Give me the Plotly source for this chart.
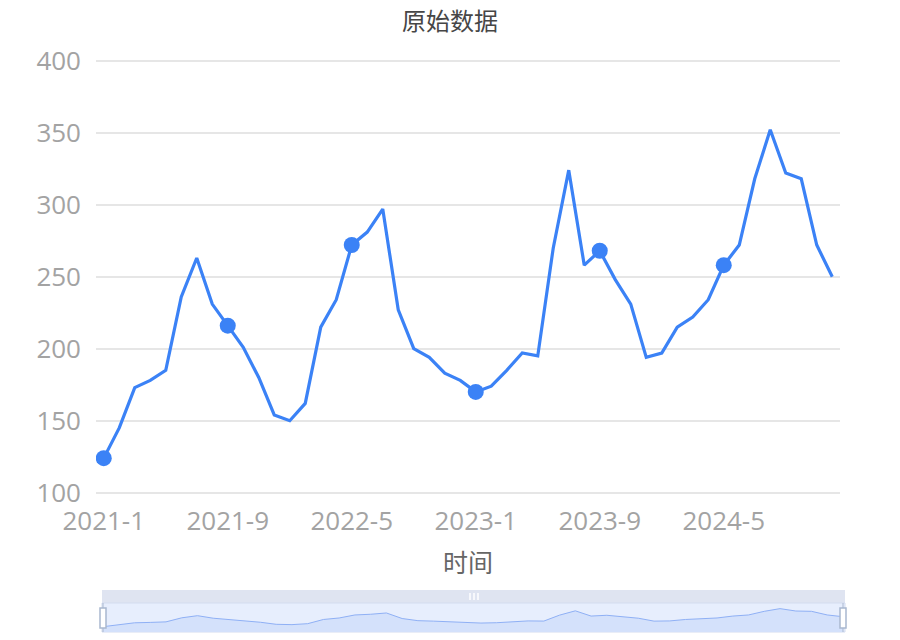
import plotly.graph_objects as go

# ---- data ----
months = [f"{y}-{m}" for y in (2021, 2022, 2023, 2024) for m in range(1, 13)]
values = [124, 145, 173, 178, 185, 236, 263, 231, 216, 201, 180, 154,
          150, 162, 215, 234, 272, 281, 297, 227, 200, 194, 183, 178,
          170, 174, 185, 197, 195, 270, 324, 258, 268, 248, 231, 194,
          197, 215, 222, 234, 258, 272, 318, 352, 322, 318, 272, 250]
tick_labels = ["2021-1", "2021-9", "2022-5", "2023-1", "2023-9", "2024-5"]
y_ticks = [100, 150, 200, 250, 300, 350, 400]
marker_months = months[::8]
marker_values = values[::8]

OFF = 0  # body margin removed via post_script
W, H = 900 - OFF, 640 - OFF
def px(x):
    return (x - OFF) / W
def py(y):
    return 1 - (y - OFF) / H

BLUE = "#3b82f6"
FONT = "Open Sans, Noto Sans CJK SC, sans-serif"

fig = go.Figure()

# main line
fig.add_trace(go.Scatter(
    x=months, y=values, mode="lines",
    line=dict(color=BLUE, width=3.2), xaxis="x", yaxis="y",
    showlegend=False, hoverinfo="x+y"))
fig.add_trace(go.Scatter(
    x=marker_months, y=marker_values, mode="markers",
    marker=dict(color=BLUE, size=16), xaxis="x", yaxis="y",
    showlegend=False, hoverinfo="x+y"))

# data-zoom mini chart
fig.add_trace(go.Scatter(
    x=list(range(len(values))), y=values, mode="lines",
    line=dict(color="#8fb0f5", width=1), fill="tozeroy",
    fillcolor="#d4e1fb", xaxis="x2", yaxis="y2",
    showlegend=False, hoverinfo="skip"))

shapes = []
# slider top bar
shapes.append(dict(type="rect", xref="paper", yref="paper",
                   x0=px(102), x1=px(845), y0=py(603), y1=py(590),
                   fillcolor="#dfe4f1", line=dict(width=0), layer="below"))
# slider body
shapes.append(dict(type="rect", xref="paper", yref="paper",
                   x0=px(102), x1=px(845), y0=py(632), y1=py(603),
                   fillcolor="#e7eefd", line=dict(color="#d3dcef", width=1), layer="below"))
# move handle grip bars
for gx in (470, 474, 478):
    shapes.append(dict(type="line", xref="paper", yref="paper",
                       x0=px(gx), x1=px(gx), y0=py(593), y1=py(600),
                       line=dict(color="white", width=1.5)))
# side handles
for hx in (103, 843):
    shapes.append(dict(type="line", xref="paper", yref="paper",
                       x0=px(hx), x1=px(hx), y0=py(603), y1=py(632),
                       line=dict(color="#aab8cf", width=1)))
    shapes.append(dict(type="rect", xref="paper", yref="paper",
                       x0=px(hx - 3), x1=px(hx + 3), y0=py(628), y1=py(608),
                       fillcolor="white", line=dict(color="#a9b8cf", width=1.5)))

# y-axis pixel mapping: 100 -> 492.7, 400 -> 60.7 (1.44 px per unit)
Y_LO, Y_HI = 97, 403
y_bot = 492.7 + (100 - Y_LO) * 1.44
y_top = 60.7 - (Y_HI - 400) * 1.44

fig.update_layout(
    width=W, height=H,
    margin=dict(l=0, r=0, t=0, b=0, autoexpand=False),
    paper_bgcolor="white", plot_bgcolor="white",
    font=dict(family=FONT),
    xaxis=dict(
        domain=[px(96), px(840)],
        type="category", categoryorder="array", categoryarray=months,
        range=[-0.5, len(months) - 0.5],
        tickmode="array", tickvals=tick_labels, ticktext=tick_labels,
        showgrid=False, showline=False, zeroline=False, ticks="",
        tickfont=dict(size=26, color="#a3a3a3", family=FONT),
        ticklabelstandoff=10, anchor="free", position=py(492.7),
        fixedrange=True, automargin=False),
    yaxis=dict(
        domain=[py(y_bot), py(y_top)],
        range=[Y_LO, Y_HI], tickmode="array", tickvals=y_ticks,
        showgrid=True, gridcolor="#e6e6e6", gridwidth=1.5,
        zeroline=False, showline=False, ticks="",
        tickfont=dict(size=26, color="#a3a3a3", family=FONT),
        ticklabelstandoff=14, anchor="x", fixedrange=True, automargin=False),
    xaxis2=dict(
        domain=[px(103), px(843)], range=[0, len(values) - 1],
        visible=False, anchor="y2", fixedrange=True, automargin=False),
    yaxis2=dict(
        domain=[py(632), py(603)], range=[57, 423],
        visible=False, anchor="x2", fixedrange=True, automargin=False),
    shapes=shapes,
    annotations=[
        dict(text="原始数据", x=px(450), y=py(20), xref="paper", yref="paper",
             showarrow=False, xanchor="center", yanchor="middle",
             font=dict(size=24, color="#464646", family=FONT)),
        dict(text="时间", x=px(468), y=py(562), xref="paper", yref="paper",
             showarrow=False, xanchor="center", yanchor="middle",
             font=dict(size=25, color="#666666", family=FONT)),
    ],
)

fig.write_html("out.html",
               config={"displayModeBar": False},
               post_script="document.body.style.margin='0';document.body.style.overflow='hidden';")
